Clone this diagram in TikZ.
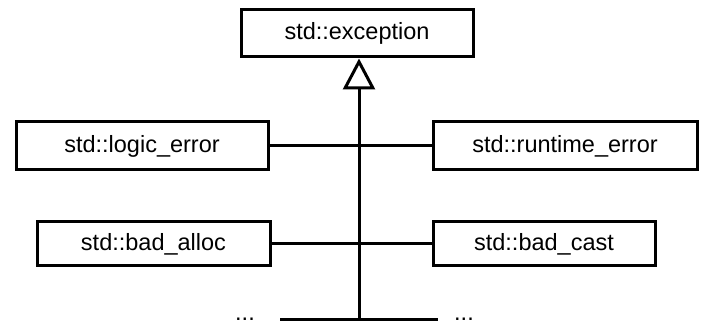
\documentclass[tikz,border=0pt]{standalone}
\usepackage{fontspec}
\setmainfont{Liberation Sans}
\usetikzlibrary{arrows.meta}
\begin{document}
\begin{tikzpicture}[x=1pt,y=-1pt,
  cls/.style={draw,line width=3pt,fill=white,inner sep=0pt,
    font=\fontsize{23.5}{26}\selectfont},
  link/.style={line width=3pt},
  dots/.style={anchor=base,inner sep=0pt,font=\fontsize{23.5}{26}\selectfont}]
  \useasboundingbox (0,0) rectangle (707,323);

  % base class
  \node[cls,minimum width=232pt,minimum height=47pt] (exc) at (357,33.5) {std::exception};

  % derived classes
  \node[cls,minimum width=252pt,minimum height=48pt] (logic) at (142,146) {std::logic\_error};
  \node[cls,minimum width=264pt,minimum height=48pt] (runtime) at (565,146) {std::runtime\_error};
  \node[cls,minimum width=233pt,minimum height=44pt] (alloc) at (153.5,244) {std::bad\_alloc};
  \node[cls,minimum width=222pt,minimum height=44pt] (cast) at (544,244) {std::bad\_cast};

  % trunk of the inheritance tree
  \coordinate (root) at (359,319);
  \coordinate (barL) at (280,319);
  \coordinate (barR) at (438,319);
  \draw[link,-{Triangle[open,length=31pt,width=32pt,fill=white]}]
    (root) -- (root |- exc.south);
  \draw[link] (barL) -- (barR);

  % branches
  \draw[link] (logic.east) -- (logic.east -| root);
  \draw[link] (runtime.west) -- (runtime.west -| root);
  \draw[link] (alloc.east) -- (alloc.east -| root);
  \draw[link] (cast.west) -- (cast.west -| root);

  % further, unnamed subclasses
  \node[dots] (moreL) at (245,320) {...};
  \node[dots] (moreR) at (464,320) {...};
\end{tikzpicture}
\end{document}
